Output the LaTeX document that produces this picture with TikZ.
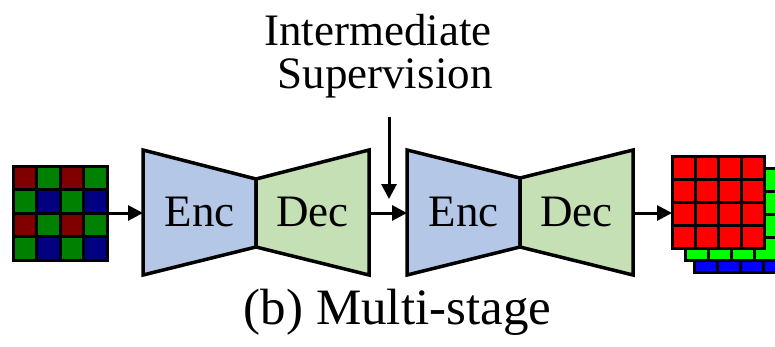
\documentclass[tikz,border=0pt]{standalone}
\usepackage{fontspec}
\setmainfont{Liberation Serif}
\usetikzlibrary{arrows.meta}
\definecolor{encblue}{HTML}{B4C7E7}
\definecolor{decgreen}{HTML}{C5E0B4}
\definecolor{bred}{HTML}{800000}
\definecolor{bgreen}{HTML}{008000}
\definecolor{bblue}{HTML}{000080}
\definecolor{ored}{HTML}{FF0000}
\definecolor{ogreen}{HTML}{00FF00}
\definecolor{oblue}{HTML}{0000FF}

\begin{document}
\begin{tikzpicture}[x=1pt,y=-1pt,
  block/.style={draw=black, line width=3.5pt, line join=miter},
  cell/.style={draw=black, line width=3pt},
  flow/.style={line width=3pt, -{Triangle[length=15pt,width=15pt]}},
  lbl/.style={font=\fontsize{45}{54}\selectfont, inner sep=0pt, anchor=base},
  captext/.style={font=\fontsize{51}{60}\selectfont, inner sep=0pt, anchor=base}]
\useasboundingbox (0,0) rectangle (775,346);

% Bayer-pattern input mosaic
\foreach \col [count=\i from 0] in {bred,bgreen,bred,bgreen,
                                    bgreen,bblue,bgreen,bblue,
                                    bred,bgreen,bred,bgreen,
                                    bgreen,bblue,bgreen,bblue}{
  \pgfmathtruncatemacro\cc{mod(\i,4)}
  \pgfmathtruncatemacro\rr{div(\i,4)}
  \filldraw[cell, fill=\col] (13+\cc*23.5, 166+\rr*23.5) rectangle ++(23.5,23.5);
}
\coordinate (raw) at (107,213);

% Full RGB output: three stacked channel planes
\foreach \col/\ox/\oy in {oblue/694/180, ogreen/685/168, ored/672/156}{
  \foreach \cc in {0,...,3}{
    \foreach \rr in {0,...,3}{
      \filldraw[cell, fill=\col] (\ox+\cc*23, \oy+\rr*23) rectangle ++(23,23);
    }
  }
}
\coordinate (rgb) at (672,213);

% Stage 1 encoder / decoder
\filldraw[block, fill=encblue] (143,150) -- (256,179) -- (256,247) -- (143,275) -- cycle;
\filldraw[block, fill=decgreen] (256,179) -- (369,150) -- (369,275) -- (256,247) -- cycle;
\node[lbl] (enc1) at (199.5,226) {Enc};
\node[lbl] (dec1) at (312.5,226) {Dec};
\coordinate (s1in) at (143,213);
\coordinate (s1out) at (369,213);

% Stage 2 encoder / decoder
\filldraw[block, fill=encblue] (407,150) -- (520,178) -- (520,247) -- (407,275) -- cycle;
\filldraw[block, fill=decgreen] (520,178) -- (633,150) -- (633,275) -- (520,247) -- cycle;
\node[lbl] (enc2) at (463.5,226) {Enc};
\node[lbl] (dec2) at (576.5,226) {Dec};
\coordinate (s2in) at (407,213);
\coordinate (s2out) at (633,213);

% Supervision label
\node[lbl] (supA) at (378,45) {Intermediate};
\node[lbl] (supB) at (385,88) {Supervision};
\coordinate (supfrom) at (389,117);
\coordinate (supto) at (389,199);

% Connectors
\draw[flow] (raw) -- (s1in);
\draw[flow] (s1out) -- (s2in);
\draw[flow] (s2out) -- (rgb);
\draw[flow] (supfrom) -- (supto);

% Caption
\node[captext] (caption) at (397.5,324) {(b) Multi-stage};
\end{tikzpicture}
\end{document}
